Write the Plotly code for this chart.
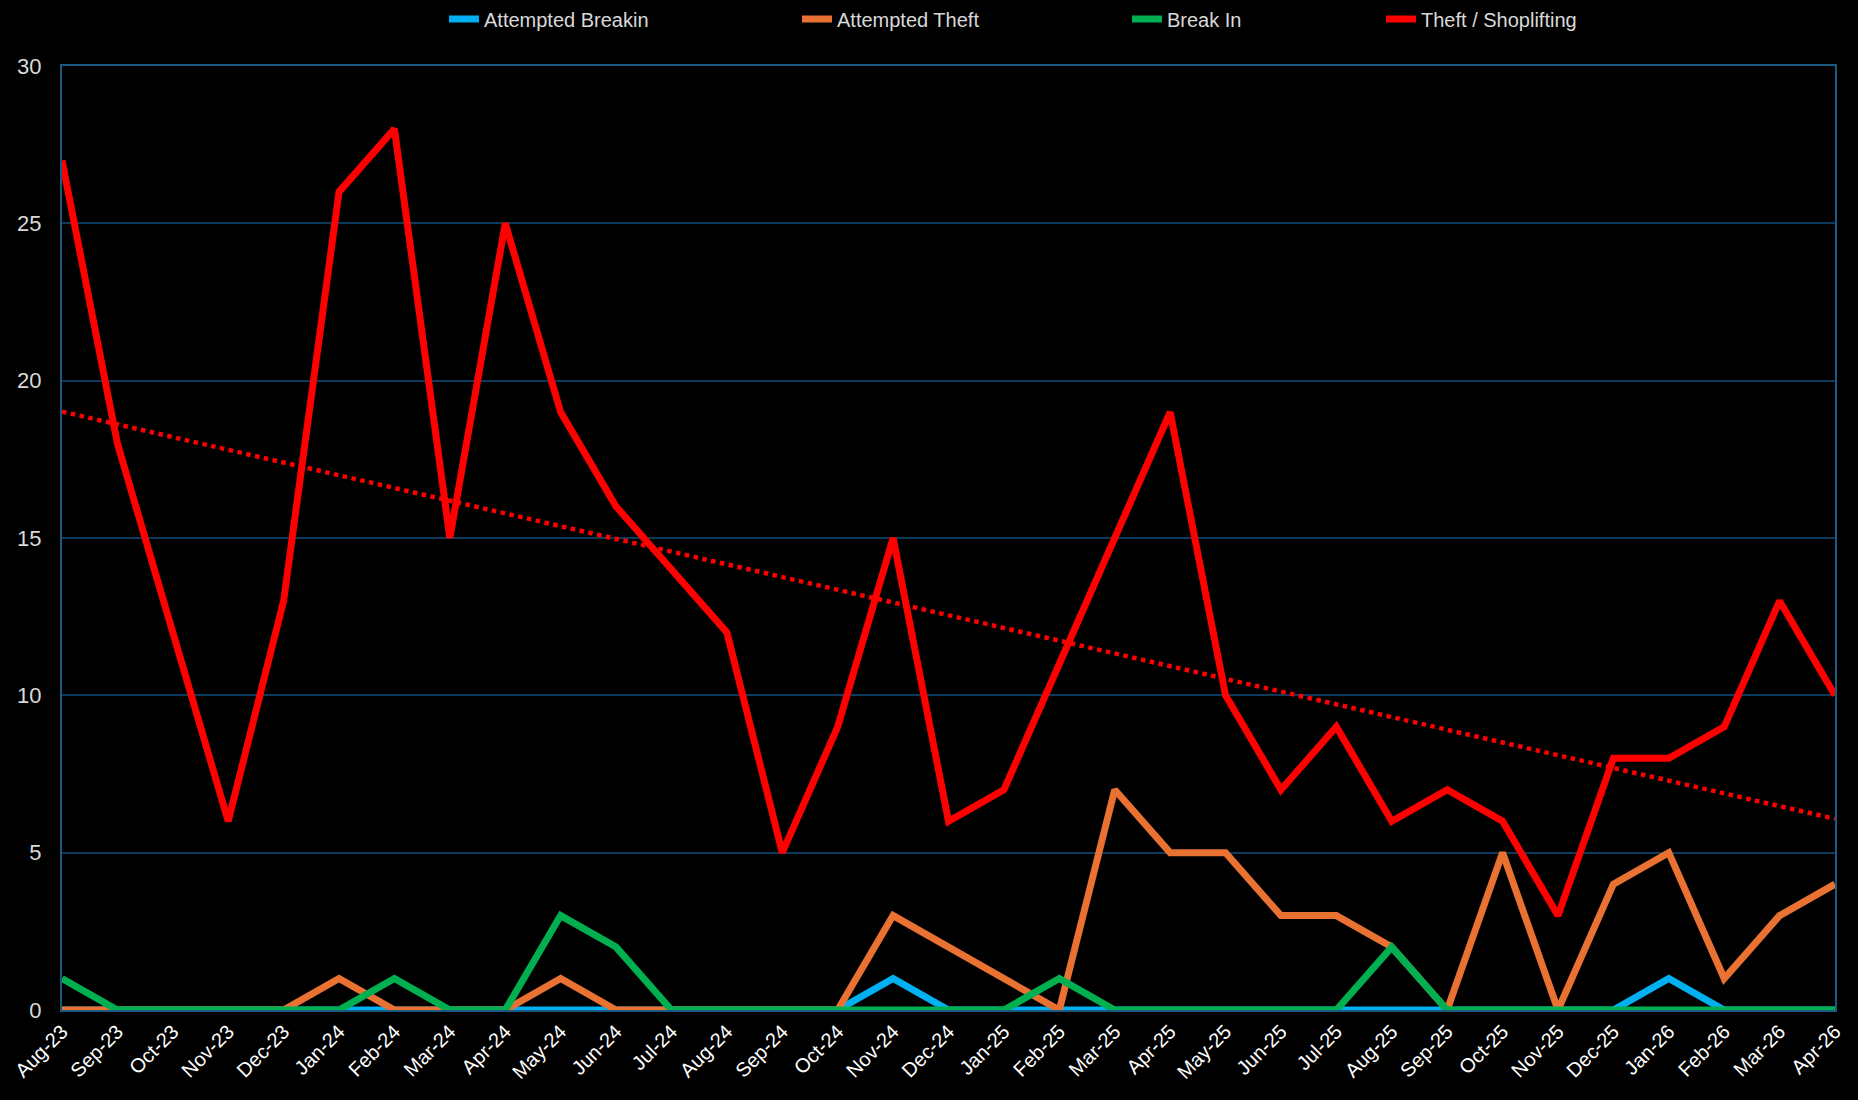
import numpy as np
import plotly.graph_objects as go

months = ["Aug-23", "Sep-23", "Oct-23", "Nov-23", "Dec-23",
          "Jan-24", "Feb-24", "Mar-24", "Apr-24", "May-24", "Jun-24", "Jul-24",
          "Aug-24", "Sep-24", "Oct-24", "Nov-24", "Dec-24",
          "Jan-25", "Feb-25", "Mar-25", "Apr-25", "May-25", "Jun-25", "Jul-25",
          "Aug-25", "Sep-25", "Oct-25", "Nov-25", "Dec-25",
          "Jan-26", "Feb-26", "Mar-26", "Apr-26"]

attempted_breakin = [0, 0, 0, 0, 0, 0, 0, 0, 0, 0, 0, 0, 0, 0, 0, 1, 0,
                     0, 0, 0, 0, 0, 0, 0, 0, 0, 0, 0, 0, 1, 0, 0, 0]
attempted_theft = [0, 0, 0, 0, 0, 1, 0, 0, 0, 1, 0, 0, 0, 0, 0, 3, 2,
                   1, 0, 7, 5, 5, 3, 3, 2, 0, 5, 0, 4, 5, 1, 3, 4]
break_in = [1, 0, 0, 0, 0, 0, 1, 0, 0, 3, 2, 0, 0, 0, 0, 0, 0,
            0, 1, 0, 0, 0, 0, 0, 2, 0, 0, 0, 0, 0, 0, 0, 0]
theft = [27, 18, 12, 6, 13, 26, 28, 15, 25, 19, 16, 14, 12, 5, 9, 15, 6,
         7, 11, 15, 19, 10, 7, 9, 6, 7, 6, 3, 8, 8, 9, 13, 10]

series = [
    ("Attempted Breakin", attempted_breakin, "#00B0F0", "legend", 444),
    ("Attempted Theft", attempted_theft, "#E97132", "legend2", 797),
    ("Break In", break_in, "#00B050", "legend3", 1127),
    ("Theft / Shoplifting", theft, "#FF0000", "legend4", 1381),
]

W, H = 1858, 1100
FONT = "Liberation Sans, Arial, sans-serif"
fig = go.Figure()
for name, vals, color, lg, _ in series:
    fig.add_trace(go.Scatter(
        x=months, y=vals, name=name, mode="lines", legend=lg,
        line=dict(color=color, width=7),
    ))

# linear trendline of theft
idx = np.arange(len(theft))
slope, intercept = np.polyfit(idx, theft, 1)
trend = slope * idx + intercept
fig.add_trace(go.Scatter(
    x=months, y=trend, mode="lines", showlegend=False, hoverinfo="skip",
    line=dict(color="#FF0000", width=4.5, dash="4.5px,4.5px"),
))

legend_font = dict(family=FONT, size=20, color="#d9d9d9")
layout_legends = {}
for name, vals, color, lg, xpos in series:
    layout_legends[lg] = dict(
        orientation="h", xref="container", yref="container",
        x=xpos / W, xanchor="left", y=1 - 19 / H, yanchor="middle",
        bgcolor="rgba(0,0,0,0)", font=legend_font,
    )

fig.update_layout(
    width=W, height=H,
    paper_bgcolor="#000000", plot_bgcolor="#000000",
    margin=dict(l=62, r=23, t=66, b=90),
    showlegend=True,
    **layout_legends,
)
fig.update_xaxes(
    type="category", range=[0, len(months) - 1],
    tickangle=-45, tickfont=dict(family=FONT, size=20, color="#ffffff"),
    showgrid=False, zeroline=False,
    showline=True, mirror=True, linecolor="#1a5a80", linewidth=2,
    ticks="",
)
fig.update_yaxes(
    range=[0, 30], dtick=5, tick0=0,
    tickfont=dict(family=FONT, size=22, color="#d9d9d9"),
    showgrid=True, gridcolor="#0b3a5c", gridwidth=2,
    zeroline=False, showline=True, mirror=True, linecolor="#1a5a80", linewidth=2,
    ticks="", ticklabelstandoff=14,
)

fig.write_html(
    "out.html",
    config={"displayModeBar": False},
    post_script="document.body.style.margin='0';document.body.style.overflow='hidden';",
)
